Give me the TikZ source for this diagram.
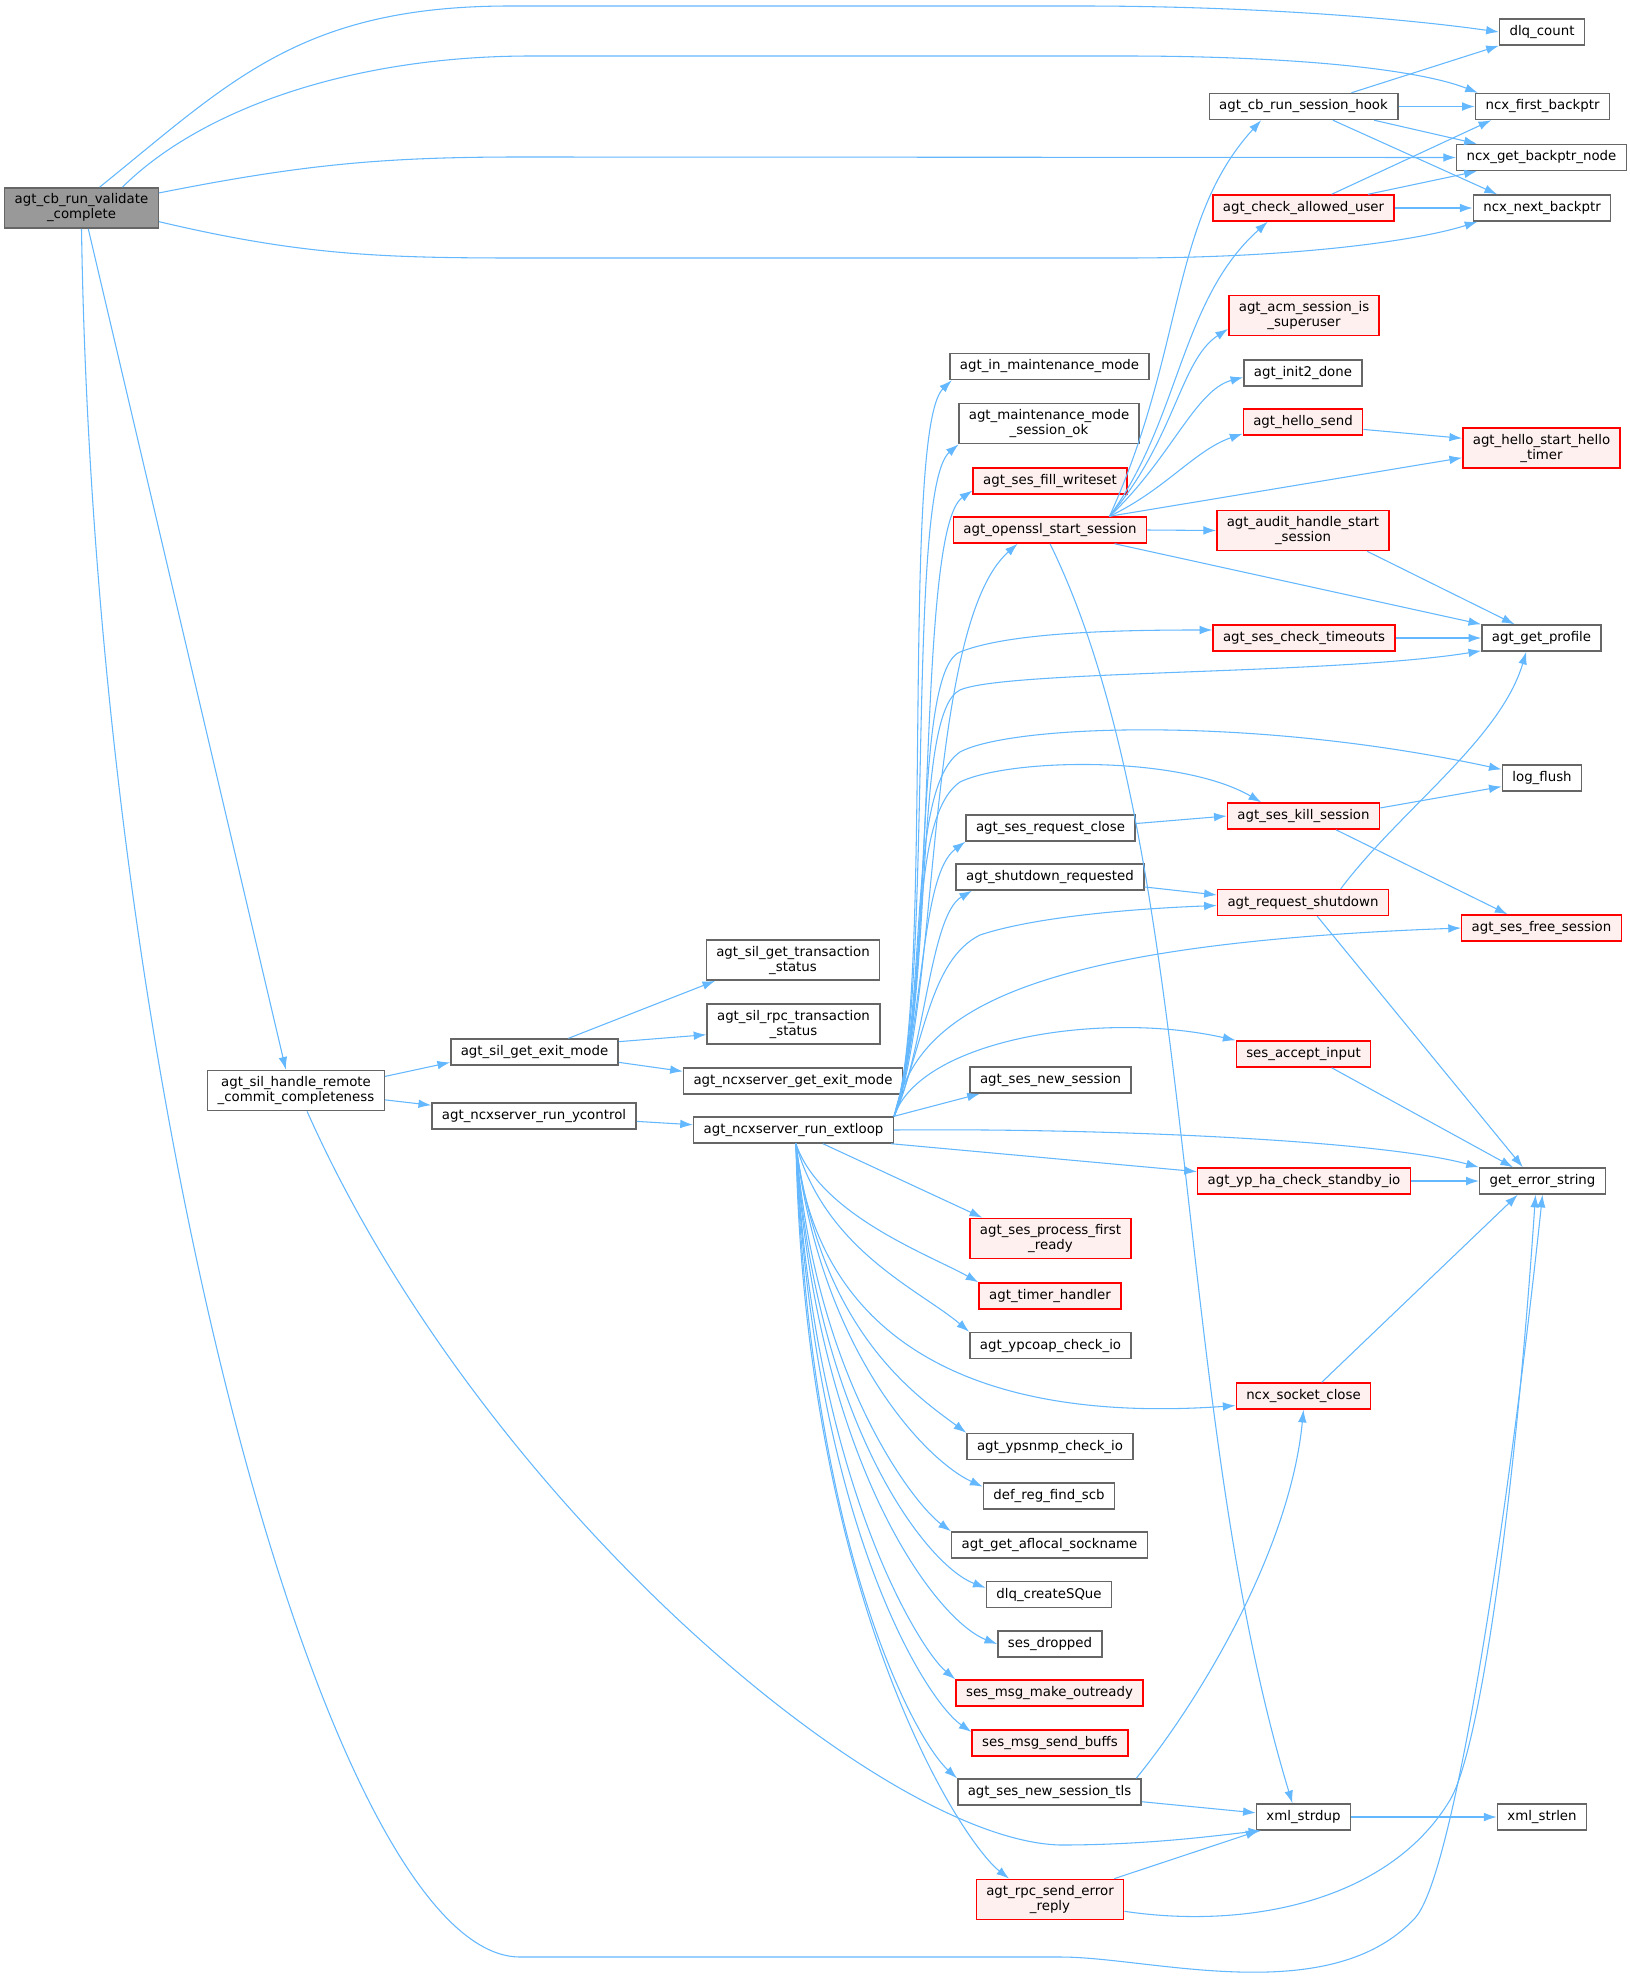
\documentclass[tikz,border=0pt]{standalone}
\usepackage{fontspec}
\setmainfont{DejaVu Sans}
\usepackage{tikz}
\usetikzlibrary{arrows.meta}

\definecolor{callblue}{HTML}{63B8FF}
\definecolor{boxgrey}{HTML}{666666}
\definecolor{rootgrey}{HTML}{999999}
\definecolor{redfill}{HTML}{FFF0F0}

\begin{document}
\begin{tikzpicture}[x=0.75pt, y=0.75pt,
    fn/.style={draw=boxgrey, fill=white, line width=1.1pt, font=\fontsize{10}{11.25}\selectfont, align=center, inner xsep=7.5pt, inner ysep=4.5pt, minimum height=19.5pt},
    fnred/.style={fn, draw=red, fill=redfill},
    fnroot/.style={fn, fill=rootgrey},
    callarrow/.style={draw=callblue, line width=0.8pt, -{Latex[length=9.5pt, width=6.5pt]}}]
    \useasboundingbox (0, 0) rectangle (1629, -1985);
    \fill[white] (0, 0) rectangle (1629, -1985);

    \node[fnroot] (validate) at (81.5, -208) {agt\_cb\_run\_validate\\\_complete};
    \node[fn] (dlqcount) at (1542, -32) {dlq\_count};
    \node[fn] (firstbp) at (1542.5, -106.5) {ncx\_first\_backptr};
    \node[fn] (hook) at (1303.5, -106.5) {agt\_cb\_run\_session\_hook};
    \node[fn] (getbp) at (1541.5, -157.5) {ncx\_get\_backptr\_node};
    \node[fnred] (allowed) at (1303.5, -208) {agt\_check\_allowed\_user};
    \node[fn] (nextbp) at (1542, -208) {ncx\_next\_backptr};
    \node[fnred] (superuser) at (1304, -315.5) {agt\_acm\_session\_is\\\_superuser};
    \node[fn] (inmaint) at (1049.5, -366.5) {agt\_in\_maintenance\_mode};
    \node[fn] (init2) at (1303, -373) {agt\_init2\_done};
    \node[fn] (maintok) at (1049, -423.5) {agt\_maintenance\_mode\\\_session\_ok};
    \node[fnred] (hello) at (1303, -422) {agt\_hello\_send};
    \node[fnred] (hellotimer) at (1541.5, -448) {agt\_hello\_start\_hello\\\_timer};
    \node[fnred] (writeset) at (1050, -481) {agt\_ses\_fill\_writeset};
    \node[fnred] (openssl) at (1050, -530) {agt\_openssl\_start\_session};
    \node[fnred] (audit) at (1303, -530.5) {agt\_audit\_handle\_start\\\_session};
    \node[fnred] (timeouts) at (1304, -638) {agt\_ses\_check\_timeouts};
    \node[fn] (profile) at (1541.5, -638) {agt\_get\_profile};
    \node[fn] (logflush) at (1542, -778) {log\_flush};
    \node[fnred] (kill) at (1303.5, -816) {agt\_ses\_kill\_session};
    \node[fn] (reqclose) at (1050.5, -828) {agt\_ses\_request\_close};
    \node[fn] (shutreq) at (1050, -877) {agt\_shutdown\_requested};
    \node[fnred] (reqshut) at (1303, -902.5) {agt\_request\_shutdown};
    \node[fnred] (freesess) at (1541.5, -928) {agt\_ses\_free\_session};
    \node[fn] (txstatus) at (793, -960) {agt\_sil\_get\_transaction\\\_status};
    \node[fn] (rpcstatus) at (793.5, -1024) {agt\_sil\_rpc\_transaction\\\_status};
    \node[fn] (exitmode) at (534.5, -1052) {agt\_sil\_get\_exit\_mode};
    \node[fnred] (accept) at (1303.5, -1054) {ses\_accept\_input};
    \node[fn] (srvexit) at (793, -1081) {agt\_ncxserver\_get\_exit\_mode};
    \node[fn] (remote) at (296, -1090.5) {agt\_sil\_handle\_remote\\\_commit\_completeness};
    \node[fn] (newsess) at (1050.5, -1080) {agt\_ses\_new\_session};
    \node[fn] (ycontrol) at (534, -1116) {agt\_ncxserver\_run\_ycontrol};
    \node[fn] (extloop) at (793.5, -1130) {agt\_ncxserver\_run\_extloop};
    \node[fnred] (standby) at (1304, -1181) {agt\_yp\_ha\_check\_standby\_io};
    \node[fn] (errstr) at (1542.5, -1181) {get\_error\_string};
    \node[fnred] (firstready) at (1050.5, -1238.5) {agt\_ses\_process\_first\\\_ready};
    \node[fnred] (timer) at (1050, -1296) {agt\_timer\_handler};
    \node[fn] (ypcoap) at (1050.5, -1345.5) {agt\_ypcoap\_check\_io};
    \node[fnred] (sockclose) at (1303.5, -1396) {ncx\_socket\_close};
    \node[fn] (ypsnmp) at (1050, -1446.5) {agt\_ypsnmp\_check\_io};
    \node[fn] (findscb) at (1049, -1496) {def\_reg\_find\_scb};
    \node[fn] (sockname) at (1049.5, -1545) {agt\_get\_aflocal\_sockname};
    \node[fn] (createq) at (1049, -1594.5) {dlq\_createSQue};
    \node[fn] (dropped) at (1050, -1644) {ses\_dropped};
    \node[fnred] (outready) at (1049.5, -1693) {ses\_msg\_make\_outready};
    \node[fnred] (sendbuffs) at (1050, -1743) {ses\_msg\_send\_buffs};
    \node[fn] (newtls) at (1049.5, -1792) {agt\_ses\_new\_session\_tls};
    \node[fn] (strdup) at (1303.5, -1817) {xml\_strdup};
    \node[fn] (strlen) at (1542, -1817) {xml\_strlen};
    \node[fnred] (errreply) at (1050, -1899.5) {agt\_rpc\_send\_error\\\_reply};

    \draw[callarrow] (validate.49) .. controls (230, -82) and (300, -6) .. (510, -6) -- (1080, -6) .. controls (1250, -6) and (1400, -18) .. (dlqcount.west);
    \draw[callarrow] (validate.27) .. controls (200, -110) and (350, -56) .. (531, -56) -- (1124, -56) .. controls (1300, -56) and (1420, -70) .. (firstbp.168);
    \draw[callarrow] (validate.11) .. controls (300, -165) and (380, -157) .. (520, -157) -- (getbp.west);
    \draw[callarrow] (validate.-10) .. controls (300, -255) and (380, -258) .. (520, -258) -- (1124, -258) .. controls (1300, -258) and (1420, -240) .. (nextbp.-168);
    \draw[callarrow] (validate.-72) -- (remote.116);
    \draw[callarrow] (validate.south) .. controls (95, -1100) and (330, -1957) .. (520, -1957) -- (1061, -1957) .. controls (1150, -1957) and (1330, -2010) .. (1415, -1918) .. controls (1455, -1875) and (1510, -1500) .. (errstr.south);

    \draw[callarrow] (remote.9) -- (exitmode.-173);
    \draw[callarrow] (remote.-6) -- (ycontrol.174);
    \draw[callarrow] (remote.-62) .. controls (480, -1500) and (880, -1840) .. (1060, -1845) .. controls (1150, -1845) and (1220, -1835) .. (strdup.-162);
    \draw[callarrow] (exitmode.22) -- (txstatus.-165);
    \draw[callarrow] (exitmode.7) -- (rpcstatus.-173);
    \draw[callarrow] (exitmode.-7) -- (srvexit.175);
    \draw[callarrow] (ycontrol.-3) -- (extloop.177);

    \draw[callarrow] (extloop.north east) .. controls (935, -1000) and (900, -430) .. (inmaint.-172);
    \draw[callarrow] (extloop.north east) .. controls (935, -1000) and (905, -490) .. (maintok.-167);
    \draw[callarrow] (extloop.north east) .. controls (938, -1000) and (915, -530) .. (writeset.-173);
    \draw[callarrow] (extloop.north east) .. controls (940, -1000) and (925, -625) .. (openssl.-157);
    \draw[callarrow] (extloop.north east) .. controls (935, -1000) and (910, -672) .. (960, -652) .. controls (1010, -632) and (1120, -630) .. (timeouts.175);
    \draw[callarrow] (extloop.north east) .. controls (935, -1000) and (912, -712) .. (960, -690) .. controls (1005, -670) and (1330, -675) .. (profile.-168);
    \draw[callarrow] (extloop.north east) .. controls (930, -1000) and (905, -790) .. (960, -752) .. controls (1010, -725) and (1250, -715) .. (logflush.168);
    \draw[callarrow] (extloop.north east) .. controls (930, -1010) and (905, -820) .. (960, -782) .. controls (1010, -758) and (1180, -755) .. (kill.162);
    \draw[callarrow] (extloop.north east) .. controls (925, -1020) and (920, -875) .. (reqclose.south west);
    \draw[callarrow] (extloop.north east) .. controls (925, -1050) and (930, -915) .. (shutreq.-170);
    \draw[callarrow] (extloop.north east) .. controls (925, -1040) and (930, -960) .. (980, -935) .. controls (1040, -915) and (1150, -908) .. (reqshut.182);
    \draw[callarrow] (extloop.north east) .. controls (915, -1020) and (1000, -945) .. (freesess.west);
    \draw[callarrow] (extloop.north east) .. controls (920, -1040) and (1100, -1010) .. (accept.north west);
    \draw[callarrow] (extloop.north east) -- (newsess.-169);
    \draw[callarrow] (extloop.east) .. controls (1100, -1128) and (1380, -1140) .. (errstr.north west);
    \draw[callarrow] (extloop.-8) -- (standby.175);

    \draw[callarrow] (extloop.-25) -- (firstready.163);
    \draw[callarrow] (extloop.-80) .. controls (820, -1215) and (930, -1255) .. (timer.north west);
    \draw[callarrow] (extloop.-80) .. controls (825, -1250) and (920, -1290) .. (ypcoap.north west);
    \draw[callarrow] (extloop.-80) .. controls (815, -1330) and (960, -1425) .. (sockclose.-172);
    \draw[callarrow] (extloop.-80) .. controls (820, -1330) and (915, -1395) .. (ypsnmp.north west);
    \draw[callarrow] (extloop.-80) .. controls (820, -1350) and (925, -1460) .. (findscb.172);
    \draw[callarrow] (extloop.-80) .. controls (815, -1380) and (915, -1505) .. (sockname.north west);
    \draw[callarrow] (extloop.-80) .. controls (815, -1420) and (925, -1565) .. (createq.174);
    \draw[callarrow] (extloop.-80) .. controls (815, -1460) and (935, -1620) .. (dropped.west);
    \draw[callarrow] (extloop.-80) .. controls (812, -1480) and (920, -1650) .. (outready.north west);
    \draw[callarrow] (extloop.-80) .. controls (812, -1520) and (925, -1700) .. (sendbuffs.172);
    \draw[callarrow] (extloop.-80) .. controls (810, -1550) and (915, -1740) .. (newtls.north west);
    \draw[callarrow] (extloop.-80) .. controls (805, -1600) and (960, -1840) .. (errreply.153);

    \draw[callarrow] (openssl.13) .. controls (1185, -350) and (1170, -220) .. (hook.-162);
    \draw[callarrow] (openssl.13) .. controls (1180, -420) and (1180, -300) .. (allowed.-159);
    \draw[callarrow] (openssl.13) .. controls (1175, -440) and (1180, -360) .. (superuser.-170);
    \draw[callarrow] (openssl.13) .. controls (1170, -460) and (1195, -390) .. (init2.-176);
    \draw[callarrow] (openssl.13) .. controls (1165, -490) and (1195, -450) .. (hello.-169);
    \draw[callarrow] (openssl.13) -- (hellotimer.-173);
    \draw[callarrow] (openssl.east) -- (audit.west);
    \draw[callarrow] (openssl.-12) -- (profile.north west);
    \draw[callarrow] (openssl.south) .. controls (1200, -850) and (1170, -1400) .. (strdup.129);

    \draw[callarrow] (hook.16) -- (dlqcount.south west);
    \draw[callarrow] (hook.east) -- (firstbp.west);
    \draw[callarrow] (hook.-11) -- (getbp.168);
    \draw[callarrow] (hook.-25) -- (nextbp.163);
    \draw[callarrow] (allowed.26) -- (firstbp.-165);
    \draw[callarrow] (allowed.12) -- (getbp.-168);
    \draw[callarrow] (allowed.east) -- (nextbp.west);

    \draw[callarrow] (hello.-7) -- (hellotimer.173);
    \draw[callarrow] (audit.-18) -- (profile.153);
    \draw[callarrow] (timeouts.east) -- (profile.west);
    \draw[callarrow] (reqclose.3) -- (kill.west);
    \draw[callarrow] (kill.6) -- (logflush.-168);
    \draw[callarrow] (kill.-23) -- (freesess.158);
    \draw[callarrow] (shutreq.-6) -- (reqshut.175);
    \draw[callarrow] (reqshut.20) .. controls (1400, -810) and (1500, -740) .. (profile.-138);
    \draw[callarrow] (reqshut.-44) -- (errstr.145);
    \draw[callarrow] (accept.-26) -- (errstr.155);
    \draw[callarrow] (standby.east) -- (errstr.west);
    \draw[callarrow] (sockclose.37) -- (errstr.-151);
    \draw[callarrow] (newtls.9) .. controls (1200, -1700) and (1290, -1550) .. (sockclose.south);
    \draw[callarrow] (newtls.-6) -- (strdup.175);
    \draw[callarrow] (strdup.east) -- (strlen.west);
    \draw[callarrow] (errreply.18) -- (strdup.-163);
    \draw[callarrow] (errreply.-9) .. controls (1250, -1930) and (1390, -1900) .. (1450, -1800) .. controls (1480, -1750) and (1515, -1500) .. (errstr.-117);
\end{tikzpicture}
\end{document}
